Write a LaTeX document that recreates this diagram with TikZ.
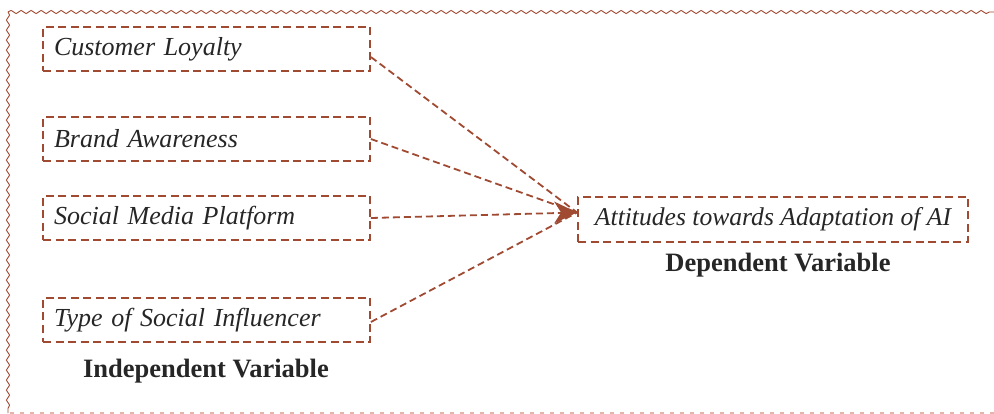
\documentclass[tikz,border=0pt]{standalone}
\usepackage{fontspec}
\setmainfont{Liberation Serif}
\usetikzlibrary{decorations.pathmorphing,arrows.meta}
\definecolor{brn}{HTML}{A04A32}
\definecolor{pnk}{HTML}{E2B4AC}
\tikzset{
  var/.style={draw=brn, line width=1.8pt, dash pattern=on 8pt off 4.5pt, minimum width=327pt, minimum height=44pt, text width=305pt, align=left, inner sep=0pt, font=\fontsize{26}{30}\selectfont\itshape, text=black!85},
  dep/.style={draw=brn, line width=1.8pt, dash pattern=on 8pt off 4.5pt, minimum width=390pt, minimum height=45pt, inner sep=0pt, font=\fontsize{25.6}{30}\selectfont\itshape, text=black!85},
  conn/.style={draw=brn, line width=1.8pt, dash pattern=on 7pt off 4pt},
  lbl/.style={font=\fontsize{26.5}{30}\selectfont\bfseries, text=black!85, anchor=base},
  wavy/.style={draw=brn, line width=0.9pt, decorate, decoration={snake, segment length=10pt, amplitude=1.6pt}}
}
\begin{document}
\begin{tikzpicture}[x=1pt,y=-1pt]
\useasboundingbox (0,0) rectangle (994,414);
\draw[wavy] (8,12) -- (994,12);
\draw[wavy] (8,12) -- (8,413);
\draw[pnk, line width=1.2pt, dash pattern=on 4pt off 6pt] (10,413) -- (994,413);
\node[var] (cl) at (206.5,49) {Customer Loyalty};
\node[var] (ba) at (206.5,139) {Brand Awareness};
\node[var] (sm) at (206.5,218) {Social Media Platform};
\node[var] (ts) at (206.5,320) {Type of Social Influencer};
\node[dep] (at) at (773,219.5) {Attitudes towards Adaptation of AI};
\node[lbl] (dv) at (778,272) {Dependent Variable};
\node[lbl] (iv) at (206,377) {Independent Variable};
\coordinate (tip) at ([yshift=7pt]at.west);
\draw[conn] ([yshift=-8pt]cl.east) -- (tip);
\draw[conn] (ba.east) -- (tip);
\draw[conn] (sm.east) -- (tip);
\draw[conn] ([yshift=-2pt]ts.east) -- (tip);
\fill[brn] (tip) -- ++(-23,-11) -- ++(7,11) -- ++(-7,11) -- cycle;
\end{tikzpicture}
\end{document}
